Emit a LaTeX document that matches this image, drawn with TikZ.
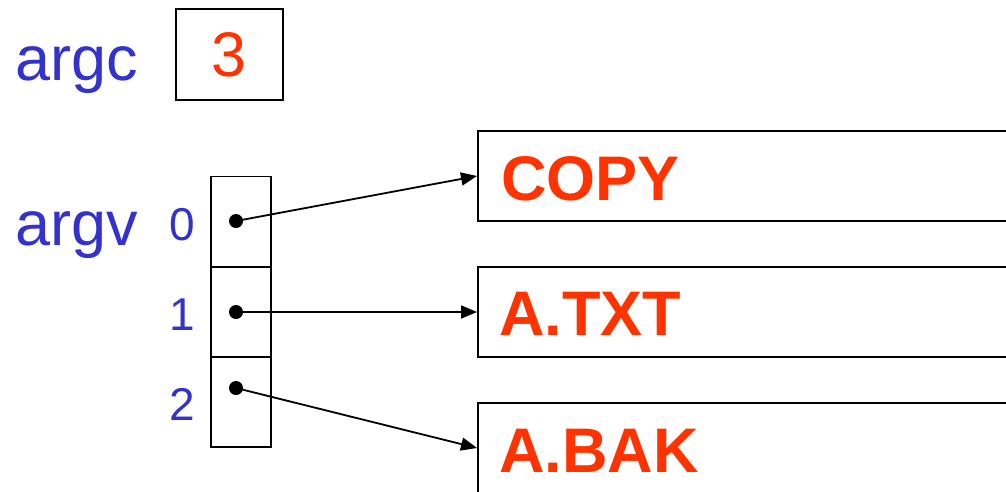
\documentclass[tikz,border=0pt]{standalone}
\usepackage{fontspec}
\setmainfont{Liberation Sans}
\usetikzlibrary{arrows.meta}
\definecolor{lblblue}{RGB}{51,51,204}
\definecolor{strred}{RGB}{255,51,0}
\tikzset{
  bigtxt/.style={text=lblblue, font=\fontsize{63}{70}\selectfont, inner sep=0pt},
  idxtxt/.style={text=lblblue, font=\fontsize{46}{50}\selectfont, inner sep=0pt},
  strtxt/.style={text=strred, font=\fontsize{63}{70}\selectfont\bfseries, inner sep=0pt},
  valbox/.style={draw, line width=2pt, minimum width=107pt, minimum height=91pt, inner sep=0pt,
                 text=strred, font=\fontsize{63}{70}\selectfont},
  cellbox/.style={draw, line width=1.8pt, minimum width=60pt, minimum height=90pt, inner sep=0pt},
  strbox/.style={draw, line width=2pt, minimum width=700pt, minimum height=90pt, inner sep=0pt, anchor=west},
  ptrdot/.style={circle, fill=black, minimum size=14pt, inner sep=0pt},
  ptr/.style={line width=1.8pt, -{Triangle[length=16pt,width=13pt]}}
}
\begin{document}
\begin{tikzpicture}[x=1pt,y=-1pt]
\useasboundingbox (0,0) rectangle (1006,491);
\clip (0,0) rectangle (1006,491);
% argc
\node[bigtxt, anchor=base west] (argc) at (15,80) {argc};
\node[valbox] (argcval) at (229.5,54.5) {3};
% argv
\node[bigtxt, anchor=base west] (argv) at (15,245) {argv};
\node[cellbox] (c0) at (241,221.5) {};
\node[cellbox] (c1) at (241,312) {};
\node[cellbox] (c2) at (241,402) {};
\node[idxtxt, anchor=base east] (i0) at (195,240) {0};
\node[idxtxt, anchor=base east] (i1) at (195,330) {1};
\node[idxtxt, anchor=base east] (i2) at (195,420) {2};
\node[ptrdot] (d0) at (236,221) {};
\node[ptrdot] (d1) at (236,312) {};
\node[ptrdot] (d2) at (236,388) {};
% strings
\node[strbox] (s0) at (477,176) {};
\node[strbox] (s1) at (477,312) {};
\node[strbox] (s2) at (477,448) {};
\node[strtxt, anchor=base west] (t0) at (501,200) {COPY};
\node[strtxt, anchor=base west] (t1) at (499,335) {A.TXT};
\node[strtxt, anchor=base west] (t2) at (499,472) {A.BAK};
% pointers
\draw[ptr] (d0.center) -- (s0.west);
\draw[ptr] (d1.center) -- (s1.west);
\draw[ptr] (d2.center) -- (s2.west);
\end{tikzpicture}
\end{document}
